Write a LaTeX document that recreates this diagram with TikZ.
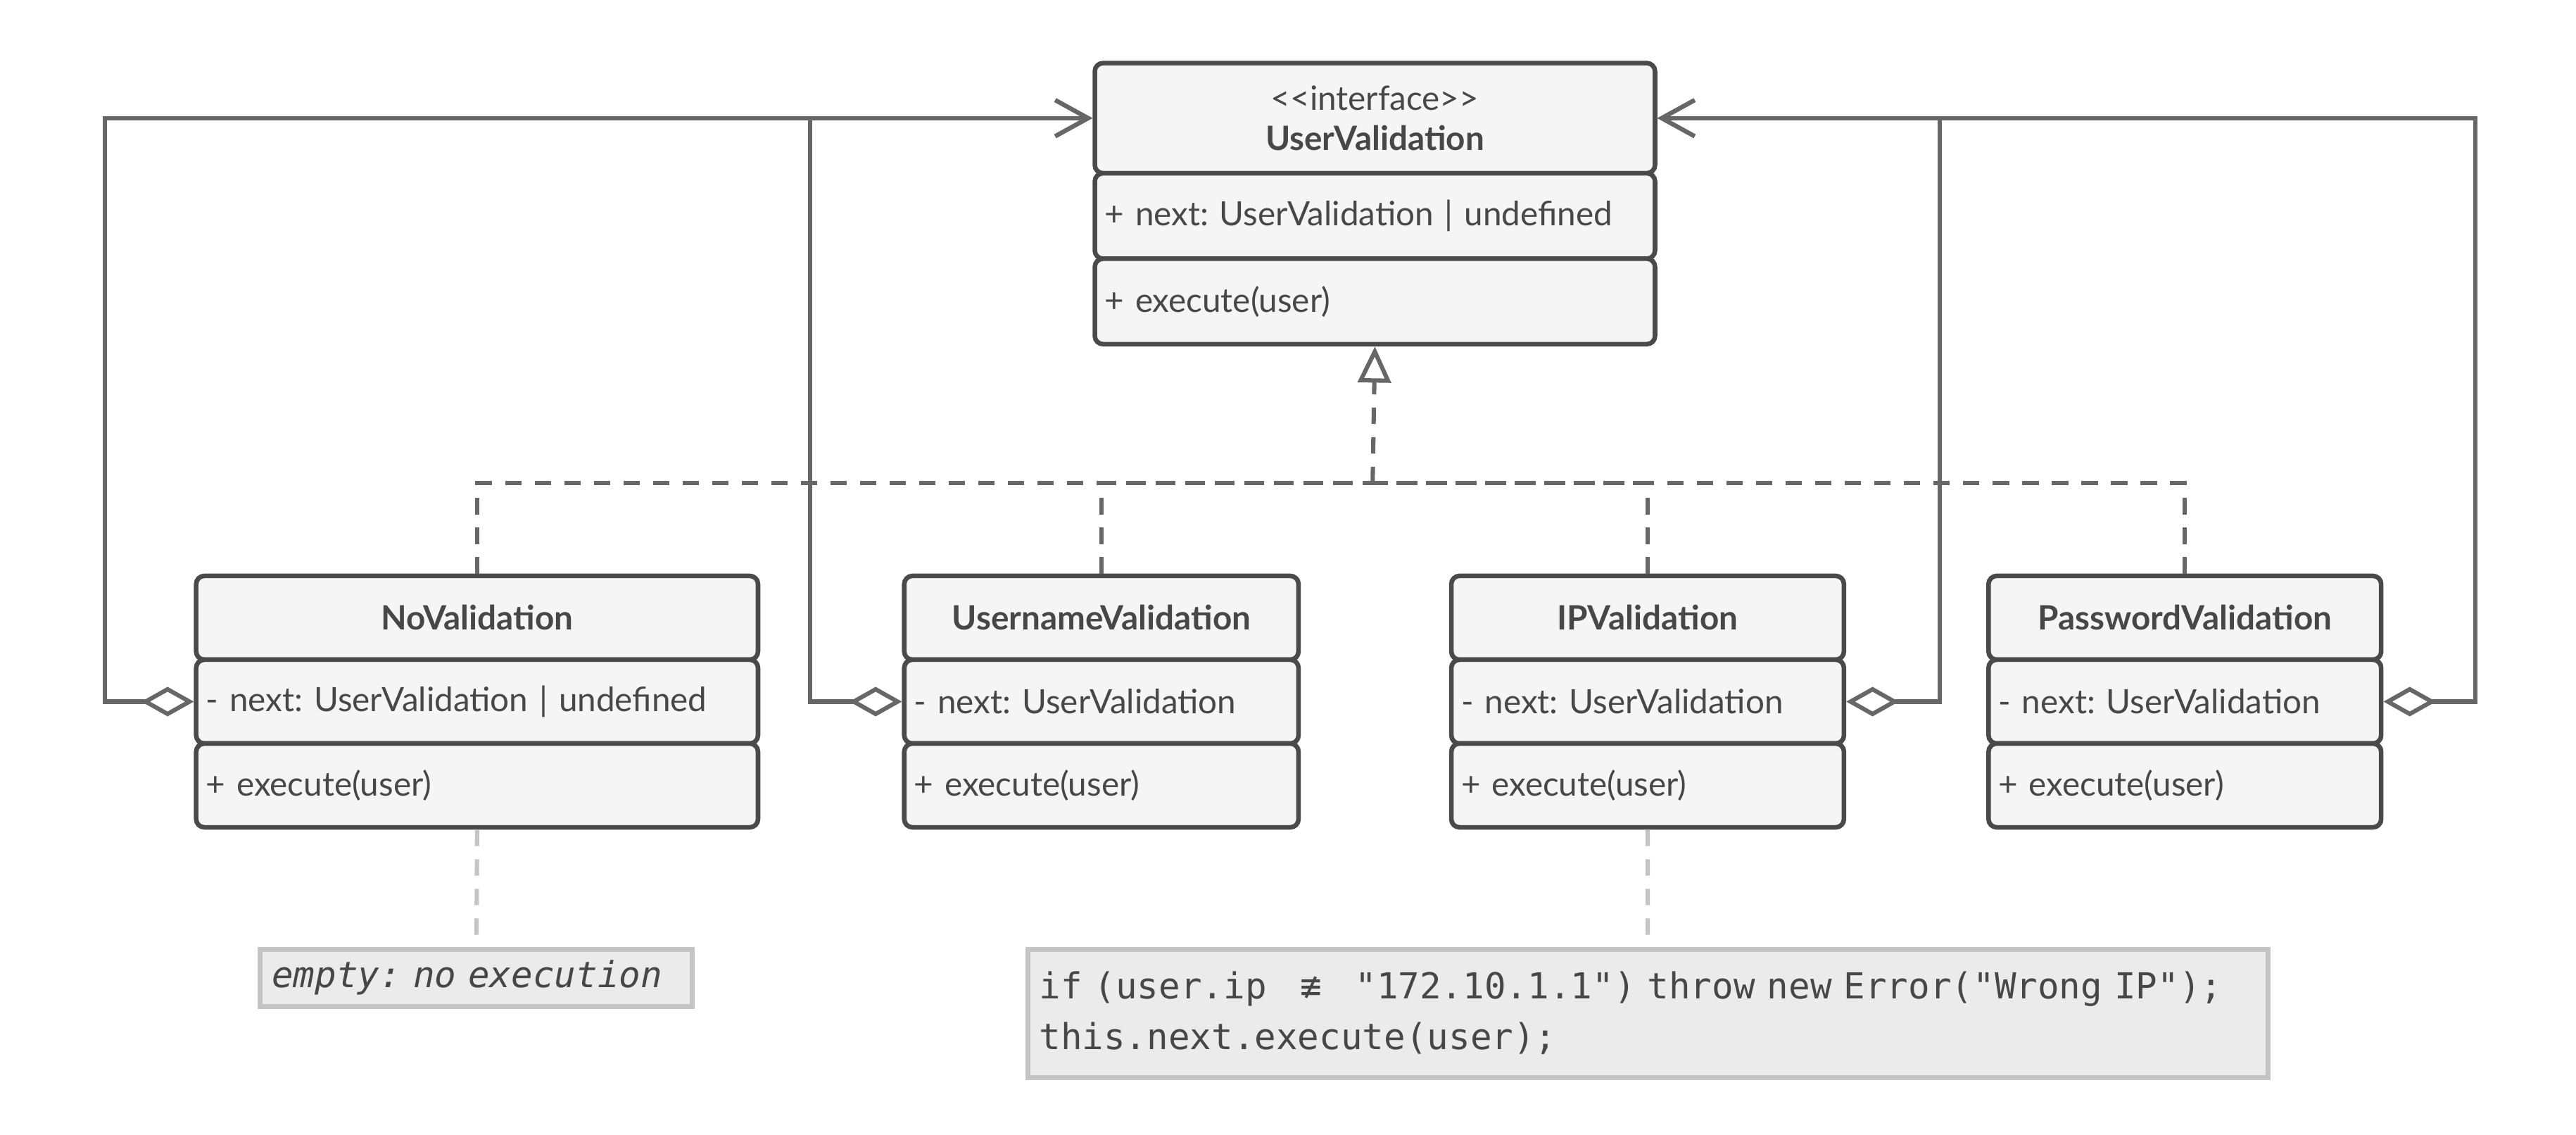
\documentclass[tikz,border=0pt]{standalone}
\usepackage{fontspec}
\setmainfont{Lato}
\setmonofont{DejaVu Sans Mono}
\newfontfamily\symbolfont{DejaVu Sans Mono}
\usetikzlibrary{arrows.meta}
\definecolor{umlline}{HTML}{4A4A4A}
\definecolor{umlfill}{HTML}{F5F5F5}
\definecolor{umltext}{HTML}{474747}
\definecolor{linkc}{HTML}{676767}
\definecolor{notebd}{HTML}{C4C4C4}
\definecolor{notefill}{HTML}{EBEBEB}
\frenchspacing

\begin{document}
\begin{tikzpicture}[x=0.5pt, y=-0.5pt, text=umltext, font=\fontsize{10.2}{12}\selectfont,
    box/.style={draw=umlline, fill=umlfill, line width=1.4pt, rounded corners=2.5pt,
        inner xsep=3pt, inner ysep=0pt, anchor=north west},
    head/.style={box, align=center, font=\fontsize{10.2}{12}\selectfont\bfseries},
    item/.style={box, align=left},
    note/.style={draw=notebd, fill=notefill, line width=1.5pt, inner xsep=3.5pt, inner ysep=0pt,
        anchor=north west, align=left, font=\fontsize{10.9}{15.5}\selectfont\ttfamily},
    agg/.style={draw=linkc, line width=1.3pt,
        {Diamond[open, fill=white, length=16pt, width=9pt]}-{Straight Barb[length=10pt, width=11pt]}},
    impl/.style={draw=linkc, line width=1.3pt, dash pattern=on 5pt off 4pt},
    notelink/.style={draw=notebd, line width=1.3pt, dash pattern=on 5pt off 4pt}]

    \useasboundingbox (0,0) rectangle (1568,690.6);

    \node[head, text width=164.5pt, minimum height=33.5pt] (uv-h) at (665,37)
        {{\mdseries\fontsize{10.2}{12.5}\selectfont <{}<interface>{}>}\\UserValidation};
    \node[item, text width=164.5pt, minimum height=26pt] (uv-a) at (665,104) {+ next: UserValidation | undefined};
    \node[item, text width=164.5pt, minimum height=26pt] (uv-m) at (665,156) {+ execute(user)};

    \foreach \n/\x/\w/\t/\a in {nov/118/171/NoValidation/{- next: UserValidation | undefined},
            usr/549/120/UsernameValidation/{- next: UserValidation},
            ip/882/119.5/IPValidation/{- next: UserValidation},
            pw/1209/119.5/PasswordValidation/{- next: UserValidation}} {
        \pgfmathsetmacro{\tw}{\w-6}
        \node[head, text width=\tw pt, minimum height=25.5pt] (\n-h) at (\x,349) {\t};
        \node[item, text width=\tw pt, minimum height=25.5pt] (\n-a) at (\x,400) {\a};
        \node[item, text width=\tw pt, minimum height=25.5pt] (\n-m) at (\x,451) {+ execute(user)};
    }

    \node[note, text width=124.5pt, minimum height=17.5pt] (empty) at (157,576) {\textit{empty: no execution}};
    \node[note, text width=370.5pt, minimum height=39pt] (code) at (624,576)
        {if (user.ip {\symbolfont\makebox[1.806em]{≢}} "172.10.1.1") throw new Error("Wrong IP");\\this.next.execute(user);};

    \coordinate (join) at (835.5,294);
    \draw[impl, -{Triangle[open, fill=white, length=11pt, width=10pt]}] (join) -- (uv-m.south);
    \foreach \n in {nov, usr, ip, pw}
        \draw[impl] (\n-h.north) |- (join);

    \draw[agg] (nov-a.west) -- ++(-54,0) |- (uv-h.west);
    \draw[agg] (usr-a.west) -- ++(-56,0) |- (uv-h.west);
    \draw[agg] (ip-a.east) -- ++(57,0) |- (uv-h.east);
    \draw[agg] (pw-a.east) -- ++(56,0) |- (uv-h.east);

    \draw[notelink] (nov-m.south) -- (empty.north);
    \draw[notelink] (ip-m.south) -- (code.north);
\end{tikzpicture}
\end{document}
